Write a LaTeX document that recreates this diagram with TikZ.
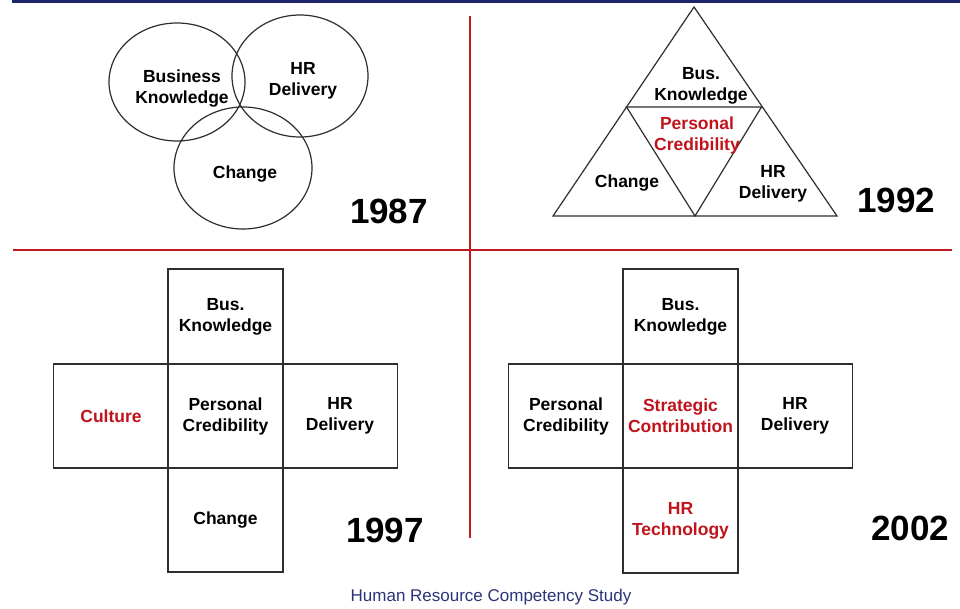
\documentclass[tikz,border=0pt]{standalone}
\usepackage{fontspec}
\setmainfont{Liberation Sans}
\usetikzlibrary{shapes.geometric}
\definecolor{barnavy}{HTML}{1C2566}
\definecolor{capnavy}{HTML}{2A3578}
\definecolor{divred}{HTML}{BE1A22}
\definecolor{txtred}{HTML}{C0141C}
\definecolor{edge}{HTML}{2E2E2E}
\tikzset{
  lbl/.style={font=\fontsize{17.5}{21}\selectfont\bfseries, align=center, text=black, inner sep=0pt},
  redlbl/.style={lbl, text=txtred},
  year/.style={font=\fontsize{35}{40}\selectfont\bfseries, inner sep=0pt},
  cell/.style={draw=edge, line width=1.3pt, rectangle, minimum width=115pt, inner sep=0pt,
               font=\fontsize{17.5}{21}\selectfont\bfseries, align=center},
  shape line/.style={draw=edge, line width=1.2pt},
  divider/.style={draw=divred, line width=2pt},
}
\begin{document}
\begin{tikzpicture}[x=1pt,y=-1pt]
\useasboundingbox (0,0) rectangle (960,608);
\fill[white] (0,0) rectangle (960,608);
% header bar
\fill[barnavy] (12,0) rectangle (960,3.2);

% quadrant dividers
\coordinate (vtop) at (469.5,16);
\coordinate (vbot) at (469.5,538);
\coordinate (hl) at (13,250);
\coordinate (hr) at (952,250);
\draw[divider] (vtop) -- (vbot);
\draw[divider] (hl) -- (hr);

% ---- 1987: three overlapping ellipses
\draw[shape line] (177,82) ellipse [x radius=68pt, y radius=59pt];
\draw[shape line] (300,76) ellipse [x radius=68pt, y radius=61pt];
\draw[shape line] (243,168) ellipse [x radius=69pt, y radius=61pt];
\node[lbl] (bk87) at (182,89) {Business\\Knowledge};
\node[lbl] (hr87) at (303,81) {HR\\Delivery};
\node[lbl] (ch87) at (245,174) {Change};
\node[year] (y87) at (389,211) {1987};

% ---- 1992: triangle split into four
\coordinate (ta) at (694,7);
\coordinate (tl) at (553,216);
\coordinate (tr) at (837,216);
\coordinate (ml) at (626.5,107);
\coordinate (mr) at (761.5,107);
\coordinate (mb) at (695,216);
\draw[shape line, line join=miter] (ta) -- (tr) -- (tl) -- cycle;
\draw[shape line] (ml) -- (mr) -- (mb) -- cycle;
\node[lbl] (bk92) at (701,86) {Bus.\\Knowledge};
\node[redlbl] (pc92) at (697,135) {Personal\\Credibility};
\node[lbl] (ch92) at (627,183) {Change};
\node[lbl] (hr92) at (773,184) {HR\\Delivery};
\node[year] (y92) at (896,200) {1992};

% ---- 1997: cross of cells
\node[cell, minimum height=95pt]  (bk97) at (225.5,316.5) {Bus.\\Knowledge};
\node[cell, minimum height=104pt, text=txtred] (cu97) at (111,416) {Culture};
\node[cell, minimum height=104pt] (pc97) at (225.5,416) {Personal\\Credibility};
\node[cell, minimum height=104pt] (hr97) at (340,416) {HR\\Delivery};
\node[cell, minimum height=104pt] (ch97) at (225.5,520) {Change};
\node[year] (y97) at (385,530) {1997};

% ---- 2002: cross of cells
\node[cell, minimum height=95pt]  (bk02) at (680.5,316.5) {Bus.\\Knowledge};
\node[cell, minimum height=104pt] (pc02) at (566,416) {Personal\\Credibility};
\node[cell, minimum height=104pt, text=txtred] (sc02) at (680.5,416) {Strategic\\Contribution};
\node[cell, minimum height=104pt] (hr02) at (795,416) {HR\\Delivery};
\node[cell, minimum height=105pt, text=txtred] (ht02) at (680.5,520.5) {HR\\Technology};
\node[year] (y02) at (910,528) {2002};

% caption
\node[font=\fontsize{17}{20}\selectfont, text=capnavy, inner sep=0pt] (cap) at (491,597) {Human Resource Competency Study};
\end{tikzpicture}
\end{document}
